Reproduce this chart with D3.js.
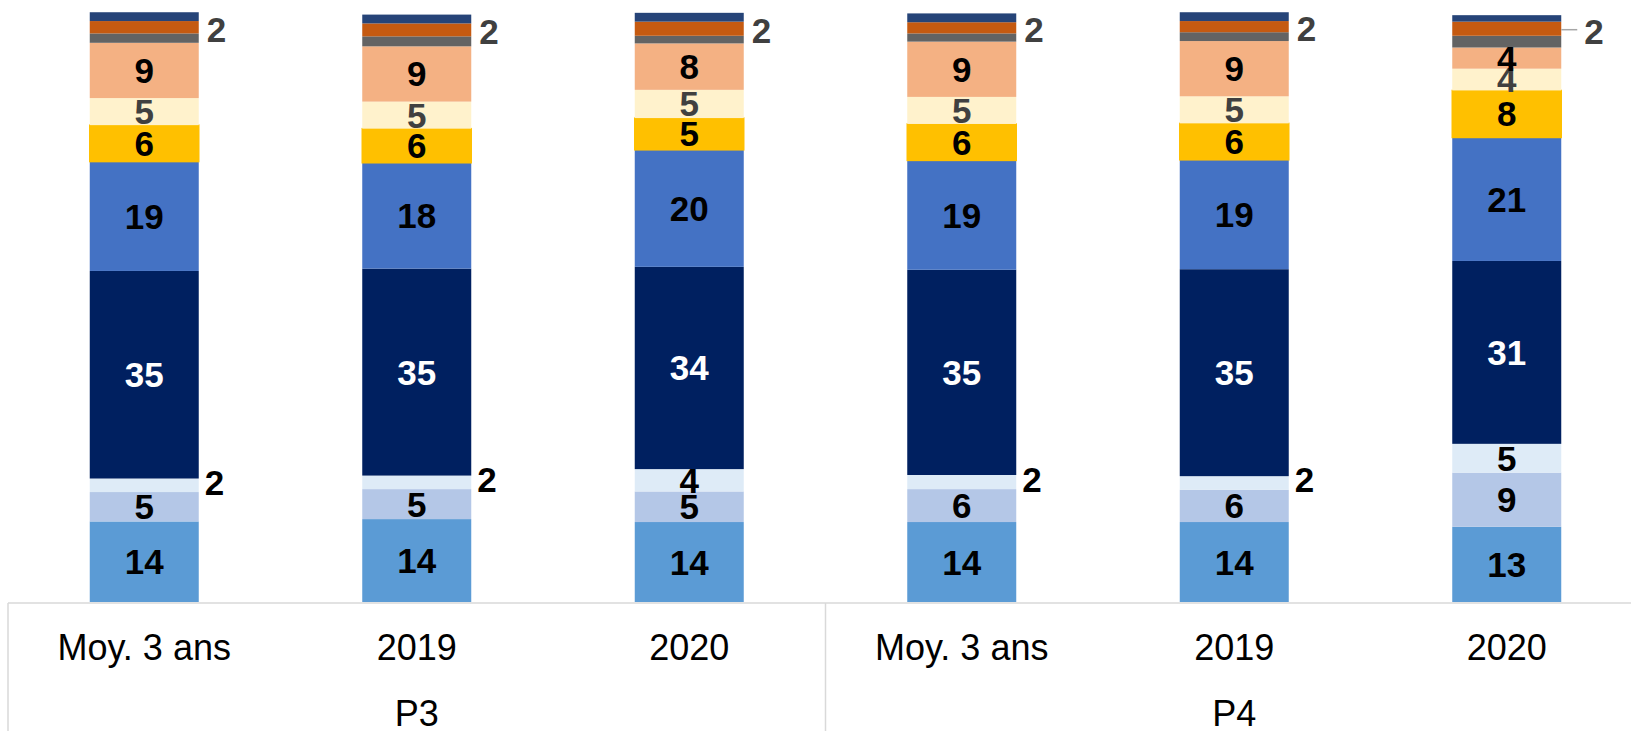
<!DOCTYPE html>
<html>
<head>
<meta charset="utf-8">
<script src="https://cdn.jsdelivr.net/npm/d3@7"></script>
<style>
  body { margin: 0; background: #fff; }
  svg { display: block; font-family: "Liberation Sans", Arial, sans-serif; }
</style>
</head>
<body>
<div id="chart"></div>
<script>
var width = 1631;
var height = 731;

// categories (two groups of three bars)
var categories = ["Moy. 3 ans", "2019", "2020", "Moy. 3 ans", "2019", "2020"];
var groups = ["P3", "P4"];

// series, bottom to top (percent)
var bleuClair   = [13.7, 14.1, 13.6, 13.6, 13.6, 12.8];
var bleuGris    = [5.0, 5.1, 5.2, 5.6, 5.5, 9.2];
var bleuPale    = [2.3, 2.3, 3.8, 2.4, 2.3, 4.9];
var marine      = [35.3, 35.2, 34.4, 34.9, 35.2, 31.1];
var bleu        = [18.6, 18.0, 19.9, 18.6, 18.6, 21.0];
var jaune       = [6.2, 5.8, 5.4, 6.2, 6.2, 8.0];
var creme       = [4.6, 4.6, 4.8, 4.6, 4.6, 3.7];
var peche       = [9.4, 9.4, 7.9, 9.4, 9.4, 3.6];
var gris        = [1.6, 1.7, 1.3, 1.4, 1.5, 2.0];
var orange      = [2.1, 2.2, 2.4, 1.9, 1.9, 2.4];
var bleuFonce   = [1.5, 1.5, 1.5, 1.5, 1.5, 1.1];

var seriesKeys = ["bleuClair", "bleuGris", "bleuPale", "marine", "bleu", "jaune", "creme", "peche", "gris", "orange", "bleuFonce"];
var seriesData = [bleuClair, bleuGris, bleuPale, marine, bleu, jaune, creme, peche, gris, orange, bleuFonce];
var colors = ["#5B9BD5", "#B4C7E7", "#DEEBF7", "#002060", "#4472C4", "#FFC000", "#FFF2CC", "#F4B183", "#636363", "#C55A11", "#264478"];
var labelColors = ["#000", "#000", "#000", "#fff", "#000", "#000", "#404040", "#000", null, "#404040", null];

var table = categories.map(function(c, i) {
    var row = {idx: i};
    seriesKeys.forEach(function(k, j) { row[k] = seriesData[j][i]; });
    return row;
});

var svg = d3.select("#chart").append("svg")
    .attr("width", width)
    .attr("height", height);

var x = d3.scaleBand()
    .domain(d3.range(categories.length))
    .range([8, 1643])
    .paddingInner(0.6)
    .paddingOuter(0.3);

var y = d3.scaleLinear()
    .domain([0, 100])
    .range([602, 14]);

var stacked = d3.stack().keys(seriesKeys)(table);

// bars
var layers = svg.append("g").selectAll("g")
    .data(stacked)
    .enter().append("g")
    .attr("fill", function(d, i) { return colors[i]; });

layers.selectAll("rect")
    .data(function(d) { return d; })
    .enter().append("rect")
    .attr("x", function(d) { return x(d.data.idx); })
    .attr("y", function(d) { return y(d[1]); })
    .attr("width", x.bandwidth())
    .attr("height", function(d) { return y(d[0]) - y(d[1]); })
    .attr("stroke", function() { return d3.select(this.parentNode).datum().key === "jaune" ? "#FFC000" : "none"; })
    .attr("stroke-width", 1.5);

// axis lines
var axis = svg.append("g").attr("stroke", "#D9D9D9").attr("stroke-width", 1.5);
axis.append("line")
    .attr("x1", x.range()[0]).attr("x2", width)
    .attr("y1", 603).attr("y2", 603);
[0, 3, 6].forEach(function(i) {
    var xx = x.range()[0] + i * x.step();
    axis.append("line")
        .attr("x1", xx).attr("x2", xx)
        .attr("y1", 603).attr("y2", height);
});

// category labels
svg.append("g").selectAll("text")
    .data(categories)
    .enter().append("text")
    .attr("x", function(d, i) { return x(i) + x.bandwidth() / 2; })
    .attr("y", 660)
    .attr("text-anchor", "middle")
    .attr("font-size", 36)
    .attr("fill", "#000")
    .text(function(d) { return d; });

svg.append("g").selectAll("text")
    .data(groups)
    .enter().append("text")
    .attr("x", function(d, i) { return x.range()[0] + (i * 3 + 1.5) * x.step(); })
    .attr("y", 726)
    .attr("text-anchor", "middle")
    .attr("font-size", 36)
    .attr("fill", "#000")
    .text(function(d) { return d; });

// data labels
var lbl = svg.append("g")
    .attr("font-size", 35)
    .attr("font-weight", "bold");

var leaderBar = 5;

stacked.forEach(function(layer, s) {
    if (!labelColors[s]) return;
    layer.forEach(function(d) {
        var v = d[1] - d[0];
        var i = d.data.idx;
        var cx = x(i) + x.bandwidth() / 2;
        var cy = (y(d[0]) + y(d[1])) / 2;
        var right = x(i) + x.bandwidth();
        var t = lbl.append("text")
            .attr("dominant-baseline", "central")
            .attr("fill", labelColors[s])
            .text(Math.round(v));
        if (seriesKeys[s] === "orange") {
            if (i === leaderBar) {
                svg.append("line")
                    .attr("x1", right).attr("x2", right + 16)
                    .attr("y1", cy + 1).attr("y2", cy + 1)
                    .attr("stroke", "#A6A6A6").attr("stroke-width", 1.5);
                t.attr("x", right + 23).attr("y", cy + 3);
            } else {
                t.attr("x", right + 8).attr("y", cy + 2);
            }
        } else if (seriesKeys[s] === "bleuPale" && v < 3) {
            t.attr("x", right + 6).attr("y", cy - 3).attr("fill", "#000");
        } else {
            t.attr("x", cx).attr("y", cy).attr("text-anchor", "middle");
        }
    });
});
</script>
</body>
</html>
